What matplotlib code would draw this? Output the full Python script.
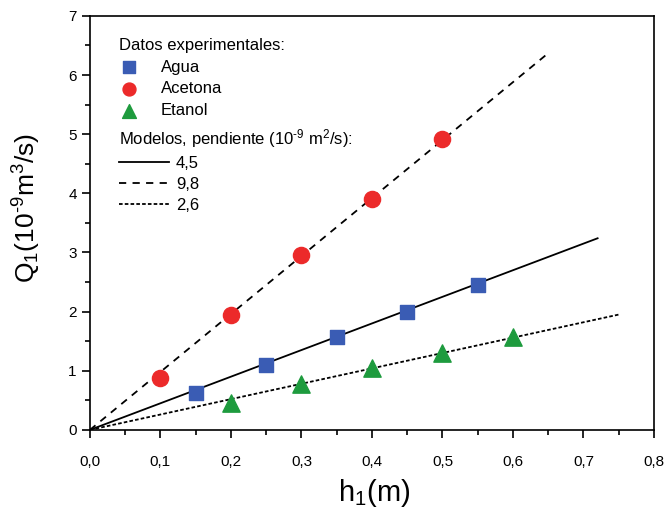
import numpy as np
import matplotlib.pyplot as plt
from matplotlib.ticker import MultipleLocator, FuncFormatter

plt.rcParams['font.family'] = ['Liberation Sans', 'DejaVu Sans']
plt.rcParams['mathtext.fontset'] = 'custom'
plt.rcParams['mathtext.rm'] = 'Liberation Sans'
plt.rcParams['mathtext.it'] = 'Liberation Sans:italic'

# datos experimentales
h_agua = [0.15, 0.25, 0.35, 0.45, 0.55]
q_agua = [0.63, 1.10, 1.57, 2.00, 2.45]
h_acetona = [0.10, 0.20, 0.30, 0.40, 0.50]
q_acetona = [0.88, 1.95, 2.95, 3.90, 4.92]
h_etanol = [0.20, 0.30, 0.40, 0.50, 0.60]
q_etanol = [0.45, 0.78, 1.05, 1.30, 1.57]

# modelos: pendiente y extremo en h
pendientes = [4.5, 9.8, 2.6]
etiquetas_modelo = ['4,5', '9,8', '2,6']
h_fin = [0.72, 0.65, 0.75]
estilos = ['-', (0, (4, 3.5)), (0, (2, 1.2))]

fig = plt.figure(figsize=(6.66, 5.13), dpi=100)
ax = fig.add_axes([0.135, 0.162, 0.847, 0.807])

lineas = []
for m, hf, ls, lab in zip(pendientes, h_fin, estilos, etiquetas_modelo):
    x = np.array([0.0, hf])
    l, = ax.plot(x, m * x, color='black', lw=1.3, linestyle=ls, label=lab, zorder=2)
    lineas.append(l)

s1 = ax.scatter(h_agua, q_agua, marker='s', s=115, color='#3a5cb4', label='Agua', zorder=3)
s2 = ax.scatter(h_acetona, q_acetona, marker='o', s=135, color='#ec2a2a', label='Acetona', zorder=3)
s3 = ax.scatter(h_etanol, q_etanol, marker='^', s=155, color='#1e9b3e', label='Etanol', zorder=3)

ax.set_xlim(0, 0.8)
ax.set_ylim(0, 7)
ax.xaxis.set_major_locator(MultipleLocator(0.1))
ax.xaxis.set_minor_locator(MultipleLocator(0.05))
ax.yaxis.set_major_locator(MultipleLocator(1))
ax.yaxis.set_minor_locator(MultipleLocator(0.5))
ax.xaxis.set_major_formatter(FuncFormatter(lambda v, p: f'{v:.1f}'.replace('.', ',')))
ax.tick_params(which='major', direction='out', length=6, width=1.2, labelsize=11)
ax.tick_params(which='minor', direction='out', length=3.5, width=1.2)
ax.tick_params(axis='x', pad=12)
for sp in ax.spines.values():
    sp.set_linewidth(1.2)

ax.set_xlabel('h$_1$(m)', fontsize=21)
ax.set_ylabel('Q$_1$(10$^{\\text{-}9}$m$^3$/s)', fontsize=19)
ax.xaxis.set_label_coords(0.504, -0.113)
ax.yaxis.set_label_coords(-0.083, 0.536)

leg1 = ax.legend(handles=[s1, s2, s3], title='Datos experimentales:', loc='upper left',
                 bbox_to_anchor=(0.04, 0.963), frameon=False, fontsize=12,
                 title_fontsize=12, alignment='left', handlelength=1.2,
                 handletextpad=1.3, labelspacing=0.4, borderaxespad=0, markerscale=0.8)
ax.add_artist(leg1)
ax.legend(handles=lineas, title='Modelos, pendiente (10$^{\\text{-}9}$ m$^2$/s):', loc='upper left',
          bbox_to_anchor=(0.04, 0.747), frameon=False, fontsize=12,
          title_fontsize=12, alignment='left', handlelength=3.0, handletextpad=0.4,
          labelspacing=0.35, borderaxespad=0)

fig.savefig('out.png', dpi=100)
